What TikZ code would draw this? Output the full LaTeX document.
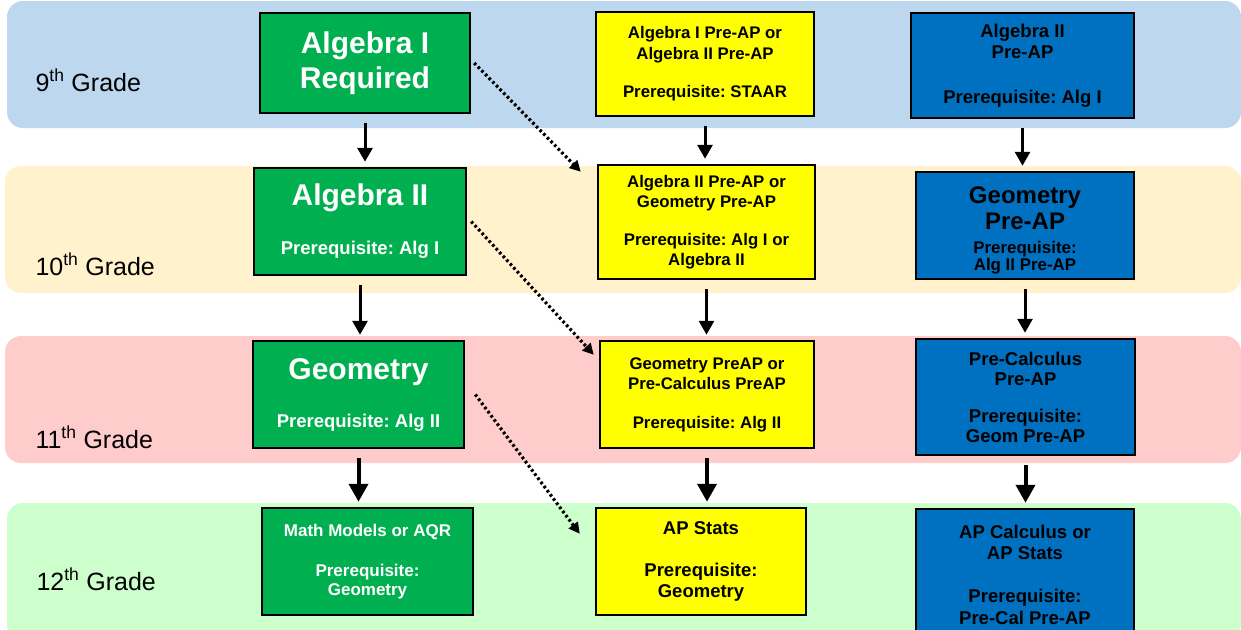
\documentclass[tikz,border=0pt]{standalone}
\usepackage{fontspec}
\setmainfont{Liberation Sans}
\usetikzlibrary{arrows.meta}

\definecolor{bandNine}{HTML}{BDD7EE}
\definecolor{bandTen}{HTML}{FFF2CC}
\definecolor{bandEleven}{HTML}{FFCCCC}
\definecolor{bandTwelve}{HTML}{CCFFCC}
\definecolor{algGreen}{HTML}{00B050}
\definecolor{preYellow}{HTML}{FFFF00}
\definecolor{advBlue}{HTML}{0070C0}

\newcommand{\boxfont}[2]{\bfseries\fontsize{#1}{#2}\selectfont\lineskiplimit=-1000pt}
\newcommand{\titlesize}{\fontsize{30}{35}\selectfont}
\frenchspacing

\tikzset{
  band/.style={rounded corners=16pt},
  course/.style={draw=black, line width=2.5pt, inner sep=0pt, align=center},
  alg/.style={course, fill=algGreen, text=white},
  pre/.style={course, fill=preYellow, text=black},
  adv/.style={course, fill=advBlue, text=black},
  grade/.style={anchor=base west, font=\fontsize{25}{30}\selectfont},
  down/.style={-{Triangle[length=14pt,width=15pt]}, line width=3pt, shorten <=9pt, shorten >=5pt},
  downbig/.style={down, line width=4pt, -{Triangle[length=18pt,width=19pt]}},
  skip/.style={line width=3.2pt, dash pattern=on 2.6pt off 2.6pt, -{Triangle[length=11pt,width=11pt]}}
}

\begin{document}
\begin{tikzpicture}[x=1pt,y=-1pt]
\useasboundingbox (0,0) rectangle (1241,629);
\clip (0,0) rectangle (1241,629);

% grade bands
\fill[band, bandNine] (7,1) rectangle (1241,128);
\fill[band, bandTen] (5,166) rectangle (1241,293);
\fill[band, bandEleven] (5,336) rectangle (1241,463);
\fill[band, bandTwelve] (7,503) rectangle (1241,640);

\node[grade] (lab9) at (32,91) {9\textsuperscript{th} Grade};
\node[grade] (lab10) at (32,275) {10\textsuperscript{th} Grade};
\node[grade] (lab11) at (32,448) {11\textsuperscript{th} Grade};
\node[grade] (lab12) at (33,590) {12\textsuperscript{th} Grade};

% on-level track
\node[alg, minimum width=210pt, minimum height=100pt, font={\boxfont{30}{35}}] (g9) at (365,63) {Algebra I\\Required};
\node[alg, minimum width=212pt, minimum height=107pt, font={\boxfont{18.5}{22}}] (g10) at (360,221.5) {{\titlesize Algebra II}\\[27pt]Prerequisite: Alg I};
\node[alg, minimum width=211pt, minimum height=107pt, font={\boxfont{18.5}{22}}] (g11) at (358.5,394.5) {{\titlesize Geometry}\\[26pt]Prerequisite: Alg II};
\node[alg, minimum width=211pt, minimum height=107pt, font={\boxfont{17}{19}}] (g12) at (367.5,561.5) {Math Models or AQR\\[21pt]Prerequisite:\\Geometry};

% pre-ap track
\node[pre, minimum width=218pt, minimum height=104pt, font={\boxfont{16.8}{21}}] (y9) at (705,64) {Algebra I Pre-AP or\\Algebra II Pre-AP\\[17pt]Prerequisite: STAAR};
\node[pre, minimum width=217pt, minimum height=114pt, font={\boxfont{16.8}{20}}] (y10) at (706.5,222) {Algebra II Pre-AP or\\Geometry Pre-AP\\[18pt]Prerequisite: Alg I or\\Algebra II};
\node[pre, minimum width=214pt, minimum height=107pt, font={\boxfont{16.8}{20}}] (y11) at (707,394.5) {Geometry PreAP or\\Pre-Calculus PreAP\\[19pt]Prerequisite: Alg II};
\node[pre, minimum width=210pt, minimum height=107pt, font={\boxfont{18.5}{21}}] (y12) at (701,561.5) {AP Stats\\[21pt]Prerequisite:\\Geometry};

% advanced track
\node[adv, minimum width=223pt, minimum height=105pt, font={\boxfont{18.5}{21}}] (b9) at (1022.5,65.5) {Algebra II\\Pre-AP\\[24pt]Prerequisite: Alg I};
\node[adv, minimum width=218pt, minimum height=107pt, font={\boxfont{24}{26}}] (b10) at (1025,225.5) {\rule{0pt}{26pt}Geometry\\Pre-AP\\[-2pt]{\fontsize{16.9}{18}\selectfont Prerequisite:}\\[-9pt]{\fontsize{16.9}{18}\selectfont Alg II Pre-AP}};
\node[adv, minimum width=219pt, minimum height=116pt, font={\boxfont{18.5}{20}}] (b11) at (1025.5,397) {Pre-Calculus\\Pre-AP\\[17pt]Prerequisite:\\Geom Pre-AP};
\node[adv, minimum width=218pt, minimum height=132pt, font={\boxfont{18.5}{21}}] (b12) at (1025,575) {AP Calculus or\\AP Stats\\[22pt]Prerequisite:\\[1pt]Pre-Cal Pre-AP};

% year to year
\draw[down] (g9.south) -- (g9.south |- g10.north);
\draw[down] (g10.south) -- (g10.south |- g11.north);
\draw[downbig] (g11.south) -- (g11.south |- g12.north);
\draw[down] (y9.south) -- (y9.south |- y10.north);
\draw[down] (y10.south) -- (y10.south |- y11.north);
\draw[downbig] (y11.south) -- (y11.south |- y12.north);
\draw[down] (b9.south) -- (b9.south |- b10.north);
\draw[down] (b10.south) -- (b10.south |- b11.north);
\draw[downbig] (b11.south) -- (b11.south |- b12.north);

% switching to pre-ap
\draw[skip] ([xshift=3pt]g9.east) -- ([xshift=-16pt,yshift=-8pt]y10.north west);
\draw[skip] ([xshift=4pt]g10.east) -- ([xshift=-5pt,yshift=-15pt]y11.north west);
\draw[skip] ([xshift=10pt]g11.east) -- ([xshift=-15pt,yshift=-27pt]y12.north west);
\end{tikzpicture}
\end{document}
